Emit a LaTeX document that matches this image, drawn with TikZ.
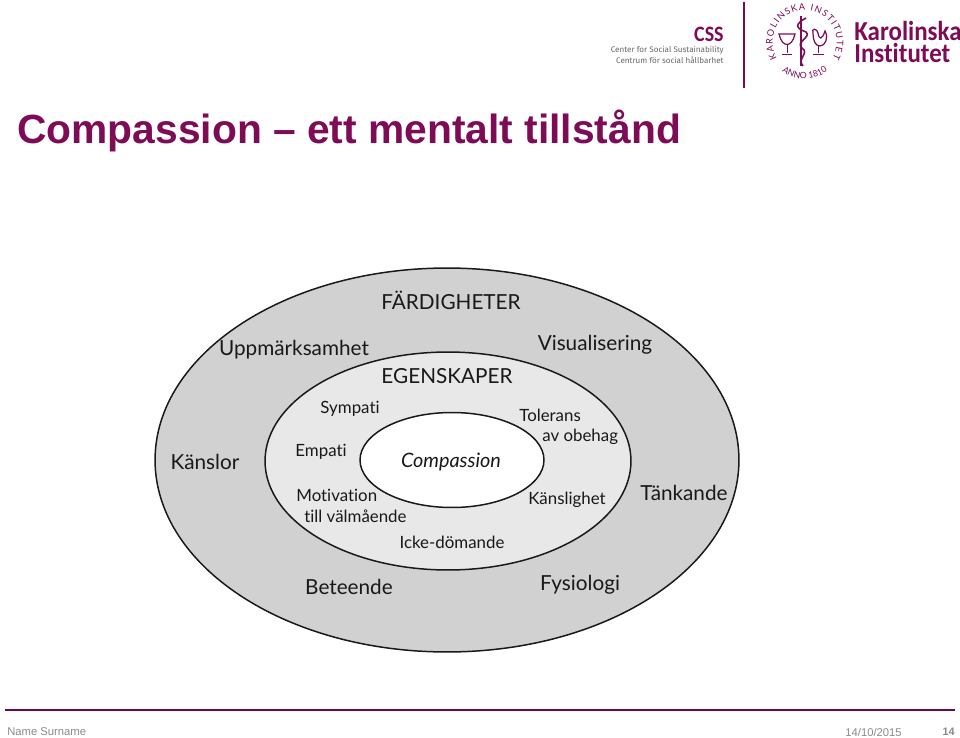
\documentclass[tikz,border=0pt]{standalone}
\usepackage{fontspec}
\setmainfont[Ligatures=NoCommon]{Lato}
\newfontfamily\arialfont{Liberation Sans}
\newfontfamily\kifont[Ligatures=NoCommon, FakeStretch=0.91]{Carlito}
\newfontfamily\logofont{Fira Sans}
\usepackage{xcolor}
\usetikzlibrary{shapes.geometric, decorations.text, positioning}
\definecolor{kiplum}{HTML}{7D0B55}
\definecolor{footgray}{HTML}{8A8A8A}

\begin{document}
\begin{tikzpicture}[
        x=0.02cm, y=-0.02cm,
        every node/.style={align=center, inner sep=0pt},
        ring/.style={
            ellipse, draw=black!90, line width=0.85pt,
            inner sep=0pt
        },
        skill/.style={font=\fontsize{11.8}{13}\selectfont, text=black!90},
        trait/.style={font=\fontsize{9.6}{12.4}\selectfont, text=black!90},
        foot/.style={font=\arialfont\fontsize{6.4}{7}\selectfont, text=footgray},
        logotxt/.style={font=\logofont\fontsize{4.6}{5.6}\selectfont, text=black!60, align=right, anchor=east},
        kiname/.style={font=\kifont\bfseries\fontsize{15.6}{14}\selectfont, text=kiplum, anchor=west},
        emblem/.style={draw=kiplum, line width=0.45pt}
    ]
    \useasboundingbox (0,0) rectangle (960,737);

    % title
    \node[anchor=west, font=\arialfont\bfseries\fontsize{23.2}{26}\selectfont, text=kiplum] (title) at (17,131) {Compassion – ett mentalt tillstånd};

    % rings
    \node[ring, fill=black!18, minimum width=11.68cm, minimum height=7.68cm] (outer) at (447,460) {};
    \node[ring, fill=black!9, minimum width=7.32cm, minimum height=4.36cm] (middle) at (448,461) {};
    \node[ring, fill=white, minimum width=3.68cm, minimum height=1.9cm] (inner) at (452,460) {};

    % skills
    \node[skill] (fard) at (451,300) {FÄRDIGHETER};
    \node[skill] (uppm) at (294,350) {Uppmärksamhet};
    \node[skill] (visu) at (595,345) {Visualisering};
    \node[skill] (kans) at (205,462) {Känslor};
    \node[skill] (tank) at (684,493) {Tänkande};
    \node[skill] (bete) at (349,587) {Beteende};
    \node[skill] (fysi) at (580,585) {Fysiologi};

    % traits
    \node[skill] (egen) at (447,376) {EGENSKAPER};
    \node[trait] (symp) at (350,409) {Sympati};
    \node[trait] (empa) at (321,452) {Empati};
    \node[trait, anchor=west] (tole) at (519,415) {Tolerans};
    \node[trait, anchor=west] (obeh) at (542,437) {av obehag};
    \node[trait, anchor=west] (moti) at (296,495) {Motivation};
    \node[trait, anchor=west] (valm) at (304,516) {till välmående};
    \node[trait] (kansl) at (567,500) {Känslighet};
    \node[trait] (icke) at (452,542) {Icke-dömande};
    \node[skill, font=\itshape\fontsize{11.3}{13}\selectfont] (comp) at (451,462) {Compassion};

    % logos
    \node[anchor=east, font=\kifont\bfseries\fontsize{12.5}{12}\selectfont, text=kiplum] (css) at (724,34) {CSS};
    \node[logotxt] (center) at (724,50) {Center for Social Sustainability};
    \node[logotxt] (centrum) at (724,60) {Centrum för social hållbarhet};
    \coordinate (divtop) at (744,2);
    \coordinate (divbot) at (744,88);
    \draw[kiplum, line width=0.7pt] (divtop) -- (divbot);

    \node[kiname] (karo) at (854,31) {Karolinska};
    \node[kiname] (inst) at (854,53) {Institutet};

    % seal
    \coordinate (seal) at (805,42);
    \path[decorate, decoration={text along path, text align={fit to path},
        text={|\fontsize{5.2}{6}\selectfont\color{kiplum}|KAROLINSKA INSTITUTET}}]
        (777,58) arc[start angle=210, end angle=-30, x radius=32, y radius=-32];
    \path[decorate, decoration={text along path, text align={fit to path},
        text={|\fontsize{5}{6}\selectfont\color{kiplum}|ANNO 1810}}]
        (782,71) arc[start angle=232, end angle=308, x radius=37, y radius=-37];
    % staff and snake
    \draw[emblem, line width=0.9pt] (801,16) -- (801,66);
    \draw[emblem, line width=0.9pt] (806,18) .. controls (795,24) and (795,28) .. (806,32) .. controls (812,37) and (795,42) .. (802,48) .. controls (810,54) and (796,58) .. (803,66);
    % bowl
    \draw[emblem, line width=0.7pt] (779,34) .. controls (782,48) and (792,48) .. (795,34) -- cycle;
    \draw[emblem] (787,45) -- (787,53) (782,54) -- (792,54);
    % rooster
    \draw[emblem, line width=0.7pt] (813,33) .. controls (811,28) and (817,28) .. (818,33) .. controls (819,40) and (822,40) .. (825,31) .. controls (829,38) and (825,46) .. (820,46) .. controls (815,46) and (813,40) .. (813,33) -- cycle;
    \draw[emblem] (818,46) -- (818,53) (813,54) -- (824,54);

    % footer
    \coordinate (ruleL) at (5,710);
    \coordinate (ruleR) at (955,710);
    \draw[kiplum!85!black, line width=0.6pt] (ruleL) -- (ruleR);
    \node[foot, anchor=west] (name) at (7,732) {Name Surname};
    \node[foot, anchor=east] (date) at (902,732) {14/10/2015};
    \node[foot, anchor=east, font=\arialfont\bfseries\fontsize{6.2}{7}\selectfont] (page) at (955,732) {14};
\end{tikzpicture}
\end{document}
